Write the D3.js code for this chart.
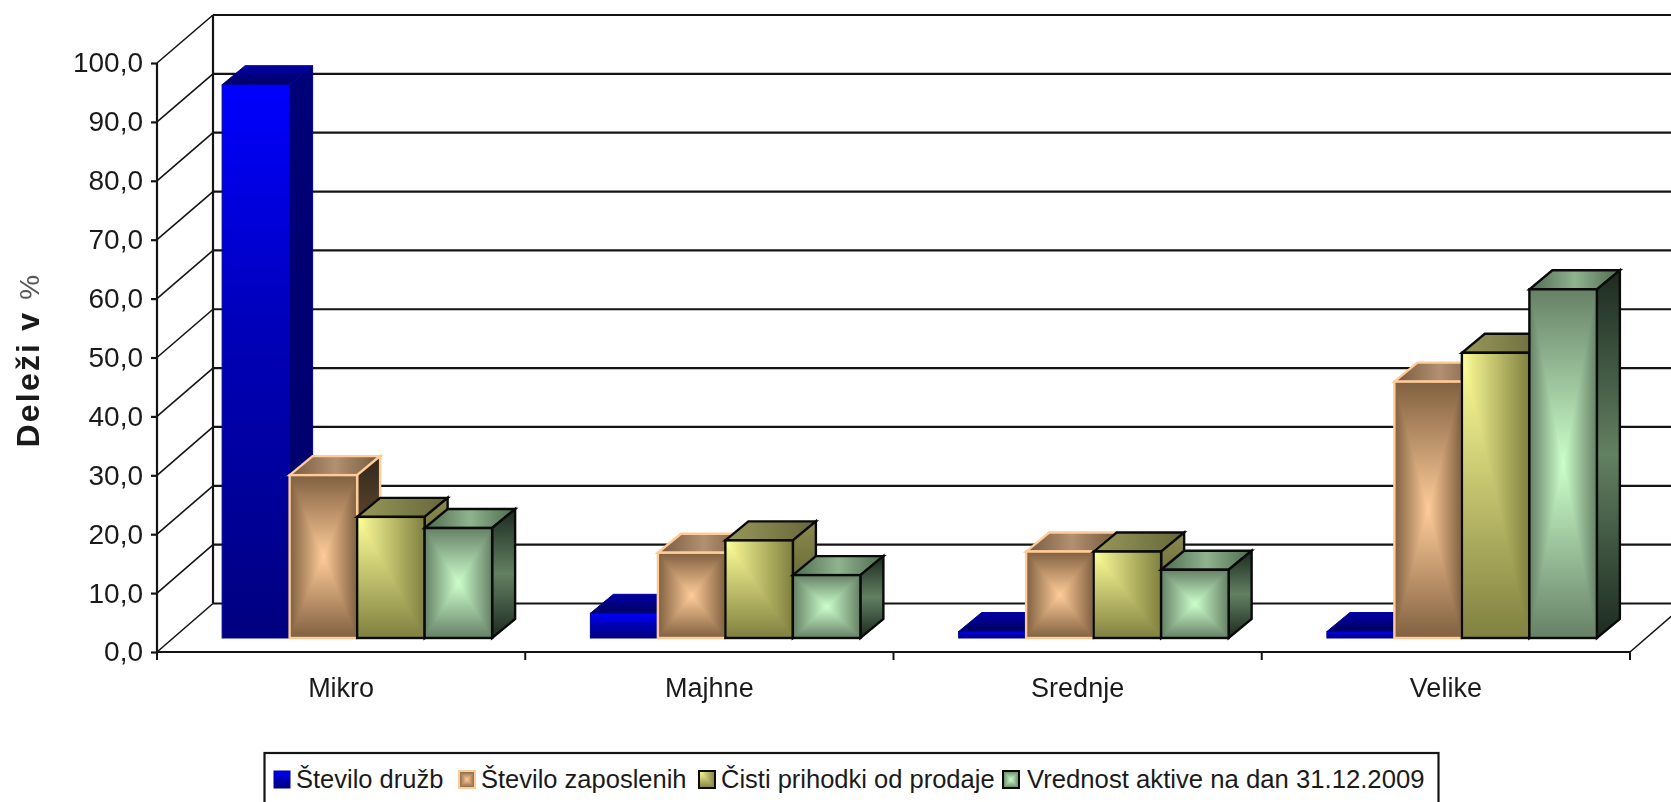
<!DOCTYPE html>
<html><head><meta charset="utf-8">
<script src="https://cdn.jsdelivr.net/npm/d3@7"></script>
<style>
html,body{margin:0;padding:0;background:#fff;overflow:hidden}
svg{display:block;filter:blur(0.6px)}
text{font-family:"Liberation Sans",Arial,sans-serif;fill:#1a1a1a}
</style></head><body>
<script>
const categories = ["Mikro","Majhne","Srednje","Velike"];
const seriesNames = ["Število družb","Število zaposlenih","Čisti prihodki od prodaje","Vrednost aktive na dan 31.12.2009"];
const steviloDruzb = [94.1,4.2,1.1,1.1];
const steviloZaposlenih = [27.7,14.5,14.7,43.6];
const cistiPrihodki = [20.6,16.6,14.7,48.5];
const vrednostAktive = [18.7,10.7,11.6,59.3];
const yTicks = [0,10,20,30,40,50,60,70,80,90,100];
const yTitle = "Deleži v ";
const yTitleUnit = "%";
const seriesValues = [steviloDruzb,steviloZaposlenih,cistiPrihodki,vrednostAktive];
const legendX = [274,459,699,1003];

const W=1671,H=802;
const svg=d3.select("body").append("svg").attr("width",W).attr("height",H);
const defs=svg.append("defs");
const line="#141414";

// floor / wall geometry
const fx0=157,fx1=1630,wallDx=56,wallDy=-48.5;
const yFront=d3.scaleLinear().domain([0,100]).range([652,63]);
const yBack=d3.scaleLinear().domain([0,100]).range([603.5,15]);
const yBar=d3.scaleLinear().domain([0,100]).range([638,50]);
const barShift=16, bdx=23, bdy=-19;
const x0=d3.scaleBand().domain(categories).range([fx0,fx1]).paddingInner(0).paddingOuter(0);
const groupW=270;
const x1=d3.scaleBand().domain(d3.range(4)).range([0,groupW]);
const groupOff=(x0.bandwidth()-groupW)/2+barShift;

function grad(id,x2,y2,stops){
  const g=defs.append("linearGradient").attr("id",id).attr("x1",0).attr("y1",0).attr("x2",x2).attr("y2",y2);
  stops.forEach(s=>g.append("stop").attr("offset",s[0]).attr("stop-color",s[1]));
}
const mid=(a,b)=>[[0,a],[0.5,b],[1,a]];
grad("tanH",1,0,mid("#806040","#ffcc99")); grad("tanV",0,1,mid("#806040","#ffcc99"));
grad("grnH",1,0,mid("#668066","#ccffcc")); grad("grnV",0,1,mid("#668066","#ccffcc"));
grad("yelH",1,0,[[0,"#ffff99"],[1,"#808040"]]); grad("yelV",0,1,[[0,"#ffff99"],[1,"#808040"]]);
grad("bluF",0,1,[[0,"#0000ff"],[0.45,"#0000b8"],[1,"#00007f"]]);
grad("bluT",0,1,[[0,"#0000a8"],[1,"#000060"]]);
grad("bluS",0,1,[[0,"#000078"],[1,"#00006a"]]);
grad("tanT",1,0,mid("#75593f","#b39070")); grad("tanS",0,1,mid("#33261a","#6b5238"));
grad("yelT",1,0,[[0,"#98985a"],[1,"#66663a"]]); grad("yelS",0,1,[[0,"#8a8a4c"],[1,"#4a4a26"]]);
grad("grnT",1,0,mid("#4f6a4f","#8fb38f")); grad("grnS",0,1,mid("#1c2a1f","#628062"));

const styles=[
 {stroke:"#000099",f:null,top:"bluT",side:"bluS",front:"bluF"},
 {stroke:"#ffcc99",h:"tanH",v:"tanV",top:"tanT",side:"tanS"},
 {stroke:"#0a0a0a",h:"yelH",v:"yelV",top:"yelT",side:"yelS"},
 {stroke:"#0a0a0a",h:"grnH",v:"grnV",top:"grnT",side:"grnS"}];

// back wall grid
const grid=svg.append("g").attr("stroke",line).attr("stroke-width",2.2).attr("fill","none");
grid.selectAll("line.g").data(yTicks).join("line").attr("class","g")
 .attr("x1",fx0+wallDx).attr("x2",W).attr("y1",d=>yBack(d)).attr("y2",d=>yBack(d));
grid.append("line").attr("x1",fx0+wallDx).attr("x2",fx0+wallDx).attr("y1",yBack(100)).attr("y2",yBack(0));
grid.selectAll("line.d").data(yTicks).join("line").attr("class","d")
 .attr("stroke-width",1.6)
 .attr("x1",fx0).attr("x2",fx0+wallDx).attr("y1",d=>yFront(d)).attr("y2",d=>yBack(d));
grid.append("line").attr("stroke-width",1.6).attr("x1",fx1).attr("y1",yFront(0)).attr("x2",fx1+wallDx).attr("y2",yFront(0)+wallDy);

// y axis
const fmt=d3.formatLocale({decimal:",",thousands:".",grouping:[3],currency:["",""]}).format(".1f");
const yAxis=svg.append("g").attr("transform",`translate(${fx0},0)`)
 .call(d3.axisLeft(yFront).tickValues(yTicks).tickFormat(fmt).tickSize(6).tickPadding(8));
yAxis.selectAll("text").attr("font-size",28).attr("dy","0.32em").style("font-family",'"Liberation Sans"');
yAxis.selectAll("line,path").attr("stroke",line).attr("stroke-width",2.2);
yAxis.select("path").attr("d",`M0,${yFront(100)}V${yFront(0)}`);

// x axis
const xAxis=svg.append("g").attr("transform",`translate(0,${yFront(0)})`)
 .call(d3.axisBottom(x0).tickSize(0).tickPadding(26));
xAxis.selectAll("text").attr("font-size",27).attr("dy","0.71em").style("font-family",'"Liberation Sans"');
xAxis.select("path").attr("d",`M${fx0},0H${fx1}`).attr("stroke",line).attr("stroke-width",2.2);
xAxis.selectAll("line.b").data(d3.range(categories.length+1)).join("line").attr("class","b")
 .attr("x1",d=>fx0+d*x0.step()).attr("x2",d=>fx0+d*x0.step()).attr("y1",0).attr("y2",8)
 .attr("stroke",line).attr("stroke-width",2);

// bars
function bar(parent,x,w,yt,yb,s,dx,dy,sw){
  const g=parent.append("g").style("isolation","isolate");
  const border={stroke:s.stroke,"stroke-width":sw,"stroke-linejoin":"miter"};
  const attrs=(sel)=>{for(const k in border)sel.attr(k,border[k]);return sel;};
  attrs(g.append("path").attr("d",`M${x},${yt}l${dx},${dy}h${w}l${-dx},${-dy}z`).attr("fill",`url(#${s.top})`));
  attrs(g.append("path").attr("d",`M${x+w},${yt}l${dx},${dy}V${yb+dy}l${-dx},${-dy}z`).attr("fill",`url(#${s.side})`));
  if(s.front){
    g.append("rect").attr("x",x).attr("y",yt).attr("width",w).attr("height",yb-yt).attr("fill",`url(#${s.front})`);
  }else{
    g.append("rect").attr("x",x).attr("y",yt).attr("width",w).attr("height",yb-yt).attr("fill",`url(#${s.h})`);
    g.append("rect").attr("x",x).attr("y",yt).attr("width",w).attr("height",yb-yt).attr("fill",`url(#${s.v})`).style("mix-blend-mode","darken");
  }
  attrs(g.append("rect").attr("x",x).attr("y",yt).attr("width",w).attr("height",yb-yt).attr("fill","none"));
}
const barsG=svg.append("g");
categories.forEach((c,ci)=>{
  seriesValues.forEach((vals,si)=>{
    const gx=x0(c)+groupOff;
    bar(barsG,gx+x1(si),x1.bandwidth(),yBar(vals[ci]),yBar(0),styles[si],bdx,bdy,si===0?1:2.4);
  });
});

// axis title
const ty=svg.append("text").attr("transform","translate(39,360) rotate(-90)").attr("text-anchor","middle").attr("letter-spacing",2.2);
ty.append("tspan").attr("font-size",32).attr("font-weight","bold").text(yTitle);
ty.append("tspan").attr("font-size",28).style("fill","#555").text(yTitleUnit);

// legend
svg.append("rect").attr("x",264.5).attr("y",753).attr("width",1174).attr("height",70)
 .attr("fill","#fff").attr("stroke",line).attr("stroke-width",2.2);
const leg=svg.append("g");
const sw=16, sh=17, sy=771;
seriesNames.forEach((n,i)=>{
  const s=styles[i],x=legendX[i];
  const g=leg.append("g").style("isolation","isolate");
  if(s.front) g.append("rect").attr("x",x).attr("y",sy).attr("width",sw).attr("height",sh).attr("fill",`url(#${s.front})`).attr("stroke","#000099");
  else{
    g.append("rect").attr("x",x).attr("y",sy).attr("width",sw).attr("height",sh).attr("fill",`url(#${s.h})`);
    g.append("rect").attr("x",x).attr("y",sy).attr("width",sw).attr("height",sh).attr("fill",`url(#${s.v})`).style("mix-blend-mode","darken");
    g.append("rect").attr("x",x).attr("y",sy).attr("width",sw).attr("height",sh).attr("fill","none").attr("stroke",s.stroke).attr("stroke-width",2);
  }
  leg.append("text").attr("x",x+sw+(i===3?8:6)).attr("y",788).attr("font-size",i===3?25.7:25.5).text(n);
});
</script></body></html>
